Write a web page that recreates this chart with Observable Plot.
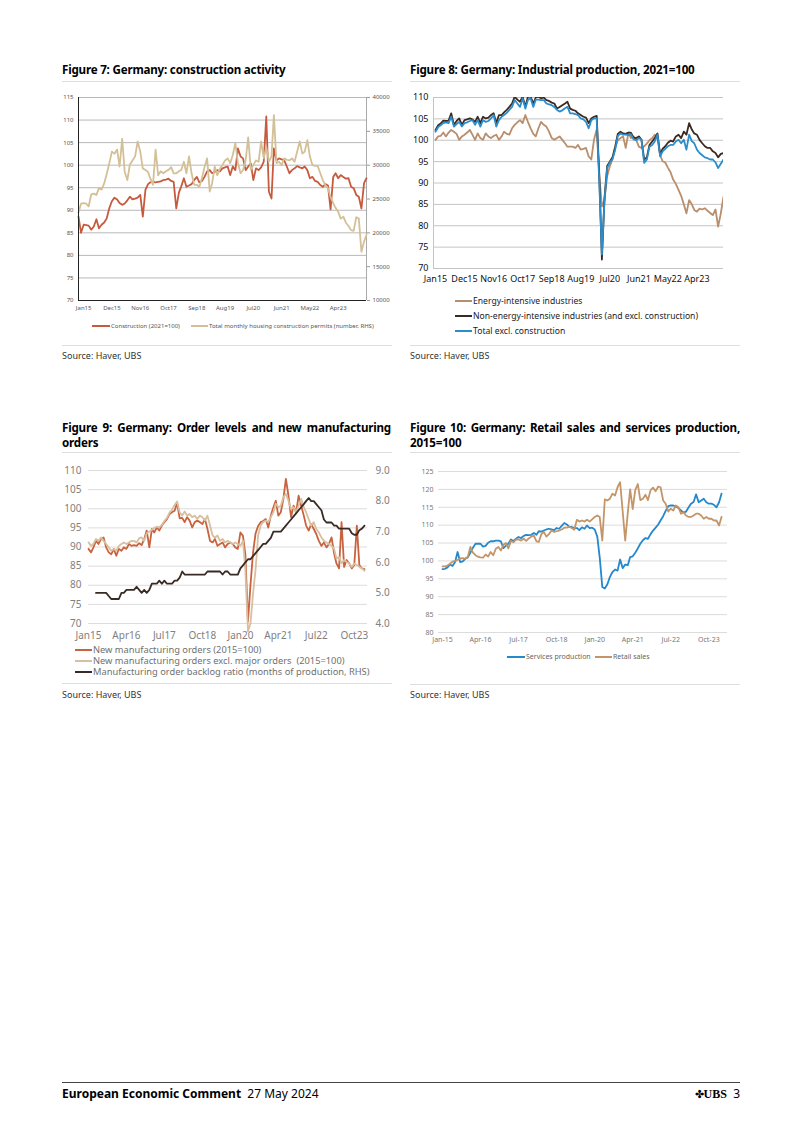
<!DOCTYPE html>
<html><head><meta charset="utf-8">
<script src="https://cdn.jsdelivr.net/npm/d3@7"></script>
<script src="https://cdn.jsdelivr.net/npm/@observablehq/plot@0.6"></script>
<style>
body{margin:0;background:#fff;}
#page{position:relative;width:802px;height:1134px;font-family:"Noto Sans",sans-serif;color:#000;overflow:hidden;}
.title{position:absolute;font-weight:bold;font-size:11.6px;letter-spacing:-0.2px;line-height:15px;width:330px;text-align:justify;}
.hr{position:absolute;height:0;border-top:1px solid #dedede;width:330px;}
.src{position:absolute;font-size:9px;color:#333;line-height:12px;}
.chart{position:absolute;}
.chart svg{overflow:visible;}
.lg{position:absolute;white-space:nowrap;display:flex;align-items:center;}
.lg .sw{display:inline-block;height:0;}
</style></head>
<body><div id="page"></div>
<script>
// ---------- DATA ----------
// Figure 7 (monthly from Nov 2014)
const f7Start = [2014, 10];
const construction = [88.6,85.0,86.8,86.7,86.6,85.7,86.4,88.0,86.0,86.8,
87.3,88.2,90.5,92.0,92.8,92.4,91.6,91.2,91.5,92.2,
93.0,92.4,92.6,92.8,93.4,88.6,94.5,95.8,96.2,96.3,
96.2,96.3,96.4,96.7,96.8,97.0,96.5,96.3,90.4,93.9,
95.3,97.1,95.2,95.5,95.8,96.7,97.4,96.2,96.5,97.4,
98.6,98.9,98.2,98.5,98.9,98.6,99.3,99.5,99.7,97.8,
99.7,98.9,103.7,101.9,101.5,98.9,99.7,100.4,96.7,99.3,
98.9,99.5,100.8,110.8,94.1,92.6,103.7,101.1,101.5,101.3,
101.1,99.7,98.2,98.9,99.3,99.8,99.5,99.3,99.7,98.9,
97.1,97.4,96.5,96.3,95.6,95.2,95.8,95.5,90.2,97.4,
98.2,97.1,97.8,97.4,97.0,97.1,95.2,94.9,93.4,93.0,
90.4,96.0,97.1];
const permits = [23000,24300,24400,24300,23900,25700,25800,25600,26600,26400,
27300,28700,30300,32000,31700,32300,29800,33900,29000,27800,
30100,30700,31300,33500,32000,29500,29300,29000,28000,27100,
32300,28500,29100,28800,29100,29300,29700,28800,28800,29100,
29300,30500,28800,31300,28800,27100,27100,26800,28100,29700,
31000,26100,27300,29800,28500,29500,30000,30700,31000,30300,
31500,33300,30300,28800,29300,30700,34100,29300,30000,30700,
30500,33500,31000,32700,30500,31300,37400,30300,30500,30000,
31000,30800,30700,31000,30500,32000,33500,31700,32000,33700,
31300,30000,29900,29900,28800,27800,27000,26600,25300,24400,
23700,23100,22100,22400,21500,21000,20400,20300,22300,22100,
17200,18700,19700];
const f7Ticks = ["Jan15","Dec15","Nov16","Oct17","Sep18","Aug19","Jul20","Jun21","May22","Apr23"];
const f7Left = [70,75,80,85,90,95,100,105,110,115];
const f7Right = [10000,15000,20000,25000,30000,35000,40000];

// Figure 8 (monthly from Jan 2015)
const f8Start = [2015, 0];
const energyIntensive = [100.1,100.9,101.0,101.8,100.9,101.8,102.4,102.0,101.5,100.1,
100.9,101.3,101.8,102.4,101.3,100.1,101.6,100.5,100.1,101.6,
100.9,100.5,101.0,101.3,100.1,100.9,102.0,101.5,101.3,102.8,
103.6,104.2,104.7,104.0,105.9,104.3,102.8,101.5,100.9,102.8,
104.3,103.6,103.2,102.0,100.5,100.1,100.5,100.9,100.1,99.3,
98.5,98.5,98.5,98.2,98.9,97.8,98.0,98.2,96.2,95.5,
100.1,102.5,92.0,84.5,86.0,91.6,93.9,95.5,98.2,100.0,
100.5,100.9,98.2,101.8,100.5,100.9,100.1,98.5,98.2,98.6,
99.2,100.0,100.5,101.3,100.7,96.6,95.1,94.8,93.6,92.5,
90.8,89.8,88.4,87.0,85.0,82.9,86.0,85.0,83.7,83.3,
84.0,83.8,84.1,83.5,83.0,82.5,83.8,79.8,82.9,86.8];
const nonEnergy = [102.4,103.5,103.9,104.6,104.5,104.6,106.3,103.6,104.5,105.1,
103.6,104.7,104.9,105.1,104.9,104.3,105.5,104.0,105.5,105.1,
105.3,105.9,106.3,104.0,105.9,105.9,106.5,107.1,107.8,108.6,
110.2,109.5,109.0,110.2,107.8,110.2,110.2,108.6,110.0,110.2,
109.8,110.0,109.4,109.2,108.8,108.6,107.4,107.8,108.2,108.6,
109.0,107.4,107.1,106.9,106.3,105.9,105.5,105.3,104.0,105.1,
105.5,105.7,92.4,72.1,86.5,94.0,95.0,96.0,98.5,101.5,
102.0,101.6,101.5,101.8,101.8,100.6,100.5,100.9,100.1,95.5,
96.0,98.9,99.7,100.5,101.6,96.6,98.0,98.6,99.4,99.9,
99.7,100.9,101.3,100.5,102.0,101.3,104.0,102.5,101.6,101.3,
100.1,99.3,98.6,98.2,98.2,97.4,97.0,96.0,96.8,97.0];
const totalExclConstruction = [102.0,103.1,103.5,104.0,104.2,104.0,105.5,103.2,103.8,104.3,
103.2,104.0,104.2,104.5,104.7,103.6,104.7,103.2,104.7,104.3,
104.5,105.1,105.9,103.2,104.7,105.5,105.9,106.4,107.1,107.8,
109.4,108.6,107.8,109.8,107.4,109.4,109.8,107.8,109.5,109.5,
109.4,109.4,108.6,108.4,108.2,107.8,107.1,106.7,107.0,107.5,
107.8,106.3,106.3,106.1,105.9,105.1,104.9,104.3,102.8,104.7,
105.1,105.1,90.8,73.3,86.0,93.5,94.8,95.6,97.8,101.0,
101.6,101.3,101.3,101.2,101.4,100.2,100.0,100.5,100.1,94.7,
95.5,98.5,98.9,99.7,101.3,96.2,97.4,98.0,98.6,98.9,
98.9,99.7,100.1,99.3,100.1,97.8,101.3,99.8,99.3,97.8,
97.0,96.5,96.0,95.8,95.5,95.5,94.8,93.5,94.5,95.5];
const f8Ticks = ["Jan15","Dec15","Nov16","Oct17","Sep18","Aug19","Jul20","Jun21","May22","Apr23"];
const f8Left = [70,75,80,85,90,95,100,105,110];

// Figure 9 (monthly from Jan 2015; backlog from Apr 2015)
const f9Start = [2015, 0];
const newOrders = [89.5,88.6,89.9,91.6,90.8,92.1,92.5,89.9,88.6,88.1,
89.5,87.7,89.5,89.0,89.9,89.5,90.8,90.3,90.5,90.3,
91.0,90.5,92.1,94.3,89.9,94.7,93.8,95.1,94.3,95.6,
96.5,97.3,98.6,99.1,99.5,101.5,97.5,97.6,96.5,97.8,
96.9,95.1,96.5,96.9,96.5,96.0,97.3,94.7,91.6,91.2,
92.1,90.3,90.8,91.2,89.9,90.8,91.2,90.8,89.9,89.5,
93.8,92.9,88.0,70.5,80.0,88.5,93.5,95.5,96.5,96.8,
97.3,95.1,98.2,100.4,102.1,98.2,99.1,102.6,107.8,103.4,
97.8,100.8,99.0,103.4,100.8,98.2,95.6,94.3,96.0,94.7,
93.4,91.6,90.3,91.2,89.9,90.8,92.5,88.3,85.7,84.4,
96.5,84.8,86.6,85.7,84.4,85.3,95.6,85.3,84.4,84.2];
const newOrdersExclMajor = [91.2,90.3,90.8,92.1,91.6,92.5,91.6,90.8,89.9,89.0,
89.5,89.0,90.3,90.8,91.2,90.8,91.2,91.6,91.6,91.2,
92.3,92.5,91.6,93.6,94.0,94.5,95.0,95.3,95.1,95.8,
96.8,97.6,99.0,99.7,101.0,101.9,99.1,98.2,99.3,98.2,
98.6,97.8,98.2,97.3,98.2,97.8,96.9,98.2,95.6,93.0,
92.5,93.0,91.6,92.1,91.2,91.6,91.2,90.8,91.2,90.8,
90.3,91.6,84.0,68.0,70.0,77.8,84.0,93.0,95.6,96.5,
96.9,96.5,97.8,99.1,101.3,100.4,100.8,103.0,103.9,102.1,
99.9,100.4,99.1,100.8,102.6,100.4,99.1,97.3,95.6,96.5,
94.7,93.8,92.5,91.6,91.2,90.8,90.3,89.5,87.0,87.4,
85.7,86.6,86.1,85.7,84.8,85.7,85.3,84.8,84.4,83.8];
const backlogStart = [2015, 3];
const backlogRatio = [5.0,5.0,5.0,5.0,5.0,4.9,4.8,4.8,4.8,4.8,
5.0,5.0,5.1,5.1,5.1,5.1,5.2,5.1,5.0,5.1,
5.0,5.1,5.3,5.3,5.3,5.4,5.3,5.4,5.3,5.3,
5.3,5.4,5.4,5.5,5.7,5.6,5.6,5.6,5.6,5.6,
5.6,5.6,5.6,5.6,5.7,5.7,5.7,5.7,5.7,5.7,
5.6,5.7,5.7,5.6,5.6,5.6,5.6,5.8,5.9,6.0,
6.1,6.1,6.2,6.3,6.4,6.5,6.6,6.6,6.7,6.8,
7.0,7.0,7.0,7.0,7.1,7.2,7.3,7.4,7.5,7.6,
7.7,7.8,7.9,8.0,8.1,8.0,8.0,7.9,7.8,7.7,
7.4,7.3,7.3,7.3,7.2,7.2,7.1,7.1,7.1,7.1,
7.1,6.95,6.9,6.9,7.05,7.1,7.2];
const f9Ticks = ["Jan15","Apr16","Jul17","Oct18","Jan20","Apr21","Jul22","Oct23"];
const f9Left = [70,75,80,85,90,95,100,105,110];
const f9Right = [4,5,6,7,8,9];

// Figure 10 (monthly from Jan 2015)
const f10Start = [2015, 0];
const servicesProduction = [97.7,97.8,98.2,99.0,98.6,99.7,102.5,99.7,99.9,100.6,
101.0,102.3,103.7,104.8,104.8,104.8,104.0,104.2,105.1,105.5,
105.5,105.7,105.7,105.5,103.6,104.3,104.8,106.0,105.6,106.2,
106.7,106.4,107.0,107.3,107.2,107.3,107.8,107.3,108.3,108.2,
108.5,108.8,109.0,108.8,108.6,109.2,109.0,109.8,110.6,110.2,
109.5,109.5,109.2,109.2,108.6,109.4,109.0,109.9,109.2,109.3,
108.8,106.8,101.0,92.7,92.3,93.5,95.5,96.9,97.6,97.3,
100.4,98.0,99.0,98.8,101.1,101.3,102.3,103.5,104.8,105.8,
106.4,106.2,107.5,108.5,109.3,110.2,111.3,112.5,114.0,115.3,
115.5,115.5,115.2,114.8,114.1,113.5,113.8,115.0,116.0,116.5,
118.6,116.4,116.9,117.4,116.4,116.0,116.0,115.7,115.0,116.4,118.8];
const retailSales = [98.5,98.5,98.7,99.2,99.8,100.0,100.3,100.7,100.8,100.6,
101.2,103.9,102.3,101.6,101.2,101.0,100.9,101.8,101.2,102.5,
101.6,103.4,103.9,102.9,104.5,105.0,103.5,105.6,105.2,106.0,
106.0,105.7,106.2,105.6,106.3,106.8,107.1,105.5,105.3,107.5,
108.1,106.8,107.5,108.5,108.1,108.3,108.5,108.8,109.3,109.3,
109.5,109.2,108.7,111.5,111.0,111.3,111.0,111.5,111.0,111.6,
112.3,112.7,112.3,105.7,117.2,116.9,117.4,118.8,118.3,120.6,
122.0,114.0,105.7,113.5,120.0,114.5,119.8,121.5,117.0,117.4,
118.5,117.0,119.8,120.5,119.5,120.8,120.6,116.9,116.0,113.8,
114.6,114.1,115.5,115.0,113.2,113.6,112.7,112.3,112.3,112.7,
113.2,113.2,112.7,111.8,112.3,111.8,111.8,111.3,111.3,109.9,112.3];
const f10Ticks = ["Jan-15","Apr-16","Jul-17","Oct-18","Jan-20","Apr-21","Jul-22","Oct-23"];
const f10Left = [80,85,90,95,100,105,110,115,120,125];

// ---------- HELPERS ----------
const mdate = (start, i) => new Date(Date.UTC(start[0], start[1] + i, 1));
const toRows = (start, vals) => vals.map((v, i) => ({date: mdate(start, i), value: v}));
const parseTick = (s) => d3.utcParse(s.includes("-") ? "%b-%y" : "%b%y")(s);
const page = document.getElementById("page");
function add(html, cls, style) {
  const el = document.createElement("div");
  el.className = cls; el.innerHTML = html;
  Object.assign(el.style, style); page.appendChild(el); return el;
}
function placeChart(svg, left, top) {
  const w = document.createElement("div"); w.className = "chart";
  w.style.left = left + "px"; w.style.top = top + "px";
  w.appendChild(svg); page.appendChild(w);
}
function legendItem(x, yc, color, label, sw, font, txtColor, lw) {
  const h = Math.round(font * 1.1);
  return add(`<span class="sw" style="width:${sw}px;border-top:${lw}px solid ${color}"></span><span style="padding-left:1px;line-height:${h}px">${label}</span>`, "lg",
    {left: x + "px", top: (yc - h / 2) + "px", height: h + "px", fontSize: font + "px", color: txtColor, lineHeight: h + "px"});
}

// ---------- TEXT ----------
add("Figure 7: Germany: construction activity", "title", {left: "62px", top: "62px"});
add("Figure 8: Germany: Industrial production, 2021=100", "title", {left: "410px", top: "62px"});
add("Figure 9: Germany: Order levels and new manufacturing orders", "title", {left: "62px", top: "420px", width: "329px"});
add("Figure 10: Germany: Retail sales and services production, 2015=100", "title", {left: "410px", top: "420px", width: "330px"});
add("", "hr", {left: "62px", top: "81px"});
add("", "hr", {left: "410px", top: "81px"});
add("", "hr", {left: "62px", top: "452px"});
add("", "hr", {left: "410px", top: "452px"});
add("", "hr", {left: "62px", top: "345px"});
add("", "hr", {left: "410px", top: "345px"});
add("", "hr", {left: "62px", top: "683px"});
add("", "hr", {left: "410px", top: "684px"});
add("Source: Haver, UBS", "src", {left: "62px", top: "350px"});
add("Source: Haver, UBS", "src", {left: "410px", top: "350px"});
add("Source: Haver, UBS", "src", {left: "62px", top: "689px"});
add("Source: Haver, UBS", "src", {left: "410px", top: "689px"});

// ---------- FIGURE 7 ----------
{
  const toL = v => 70 + (v - 10000) / 30000 * 45;
  const fromL = y => String(Math.round(10000 + (y - 70) / 45 * 30000));
  const cRows = toRows(f7Start, construction);
  const pRows = toRows(f7Start, permits);
  const x0 = mdate(f7Start, 0), x1 = mdate(f7Start, 112);
  const svg = Plot.plot({
    width: 330, height: 228, marginLeft: 16, marginRight: 26, marginTop: 9, marginBottom: 16,
    style: {fontFamily: "Noto Sans", fontSize: "6px", color: "#555", background: "none"},
    x: {type: "utc", domain: [x0, x1]},
    y: {domain: [70, 115]},
    marks: [
      Plot.gridY(f7Left, {stroke: "#b8b8b8", strokeOpacity: 1}),
      Plot.axisY(f7Left, {anchor: "left", tickSize: 0, tickPadding: 5, label: null}),
      Plot.axisY(f7Right.map(toL), {anchor: "right", tickSize: 3, tickPadding: 3, stroke: "#999", tickFormat: fromL, label: null}),
      Plot.ruleX([x1], {stroke: "#aaa"}),
      Plot.axisX(f7Ticks.map(parseTick), {tickSize: 0, tickPadding: 5, tickFormat: "%b%y", label: null}),
      Plot.lineY(cRows, {x: "date", y: "value", stroke: "#c65a3e", strokeWidth: 1.8}),
      Plot.lineY(pRows, {x: "date", y: d => toL(d.value), stroke: "#d3c096", strokeWidth: 1.8}),
      Plot.ruleX([x0], {stroke: "#222", strokeWidth: 1}),
      Plot.ruleY([70], {stroke: "#222", strokeWidth: 1})
    ]
  });
  placeChart(svg, 62, 88);
  legendItem(92, 326, "#c65a3e", "Construction (2021=100)", 18, 6, "#555", 2);
  legendItem(191, 326, "#d3c096", "Total monthly housing construction permits (number, RHS)", 17, 6, "#555", 2);
}

// ---------- FIGURE 8 ----------
{
  const e = toRows(f8Start, energyIntensive), n = toRows(f8Start, nonEnergy), t = toRows(f8Start, totalExclConstruction);
  const svg = Plot.plot({
    width: 330, height: 200, marginLeft: 23, marginRight: 17, marginTop: 9, marginBottom: 20,
    style: {fontFamily: "Noto Sans", fontSize: "9px", color: "#111", background: "none"},
    x: {type: "utc", domain: [mdate(f8Start, 0), mdate(f8Start, 109)], insetLeft: 2},
    y: {domain: [70, 110]},
    marks: [
      Plot.gridY(f8Left, {stroke: "#c4c4c4", strokeOpacity: 1}),
      Plot.frame({anchor: "left", stroke: "#c4c4c4"}),
      Plot.axisY(f8Left, {anchor: "left", tickSize: 0, tickPadding: 5, label: null}),
      Plot.axisX(f8Ticks.map(parseTick), {tickSize: 0, tickPadding: 7, tickFormat: "%b%y", label: null}),
      Plot.lineY(e, {x: "date", y: "value", stroke: "#b98e6c", strokeWidth: 1.8, clip: true}),
      Plot.lineY(n, {x: "date", y: "value", stroke: "#3b2a22", strokeWidth: 1.8, clip: true}),
      Plot.lineY(t, {x: "date", y: "value", stroke: "#2b8dcb", strokeWidth: 1.8, clip: true})
    ]
  });
  placeChart(svg, 410, 88);
  legendItem(455, 301, "#b98e6c", "Energy-intensive industries", 17, 8.6, "#222", 2);
  legendItem(455, 316, "#3b2a22", "Non-energy-intensive industries (and excl. construction)", 17, 8.6, "#222", 2);
  legendItem(455, 331, "#2b8dcb", "Total excl. construction", 17, 8.6, "#222", 2);
}

// ---------- FIGURE 9 ----------
{
  const toL = v => 70 + (v - 4) * 8;
  const fromL = y => ((y - 70) / 8 + 4).toFixed(1);
  const a = toRows(f9Start, newOrders), b = toRows(f9Start, newOrdersExclMajor), c = toRows(backlogStart, backlogRatio);
  const svg = Plot.plot({
    width: 330, height: 187, marginLeft: 26, marginRight: 25, marginTop: 12, marginBottom: 22,
    style: {fontFamily: "Noto Sans", fontSize: "10px", color: "#808080", background: "none"},
    x: {type: "utc", domain: [mdate(f9Start, 0), mdate(f9Start, 109)], insetRight: 3},
    y: {domain: [70, 110]},
    marks: [
      Plot.gridY(f9Left, {stroke: "#dcdcdc", strokeOpacity: 1}),
      Plot.axisY(f9Left, {anchor: "left", tickSize: 0, tickPadding: 7, label: null}),
      Plot.axisY(f9Right.map(toL), {anchor: "right", tickSize: 0, tickPadding: 8, tickFormat: fromL, label: null}),
      Plot.axisX(f9Ticks.map(parseTick), {tickSize: 0, tickPadding: 8, tickFormat: "%b%y", label: null}),
      Plot.lineY(a, {x: "date", y: "value", stroke: "#c9623f", strokeWidth: 1.8}),
      Plot.lineY(b, {x: "date", y: "value", stroke: "#d8bf9f", strokeWidth: 1.8}),
      Plot.lineY(c, {x: "date", y: d => toL(d.value), stroke: "#3a2a24", strokeWidth: 1.8})
    ]
  });
  placeChart(svg, 62, 458);
  legendItem(75, 650, "#c9623f", "New manufacturing orders (2015=100)", 17, 9.3, "#707070", 2);
  legendItem(75, 661, "#d8bf9f", "New manufacturing orders excl. major orders&nbsp; (2015=100)", 17, 9.3, "#707070", 2);
  legendItem(75, 672, "#3a2a24", "Manufacturing order backlog ratio (months of production, RHS)", 17, 9.3, "#707070", 2);
}

// ---------- FIGURE 10 ----------
{
  const s = toRows(f10Start, servicesProduction), r = toRows(f10Start, retailSales);
  const svg = Plot.plot({
    width: 330, height: 188, marginLeft: 28, marginRight: 13, marginTop: 9, marginBottom: 18,
    style: {fontFamily: "Noto Sans", fontSize: "7px", color: "#777", background: "none"},
    x: {type: "utc", domain: [mdate(f10Start, 0), mdate(f10Start, 110)], insetLeft: 4, insetRight: 6},
    y: {domain: [80, 125]},
    marks: [
      Plot.gridY(f10Left, {stroke: "#dcdcdc", strokeOpacity: 1}),
      Plot.axisY(f10Left, {anchor: "left", tickSize: 0, tickPadding: 5, label: null}),
      Plot.axisX(f10Ticks.map(parseTick), {tickSize: 0, tickPadding: 5, tickFormat: "%b-%y", label: null}),
      Plot.lineY(s, {x: "date", y: "value", stroke: "#2488cc", strokeWidth: 1.8}),
      Plot.lineY(r, {x: "date", y: "value", stroke: "#c39569", strokeWidth: 1.8})
    ]
  });
  placeChart(svg, 410, 462);
  legendItem(507, 657, "#2488cc", "Services production", 18, 7, "#666", 2);
  legendItem(595, 657, "#c39569", "Retail sales", 17, 7, "#666", 2);
}

// ---------- FOOTER ----------
add("", "hr", {left: "62px", top: "1082px", width: "678px", borderTop: "1px solid #444"});
add('<b>European Economic Comment</b>&nbsp; 27 May 2024', "src", {left: "62px", top: "1086px", fontSize: "12px", color: "#000", lineHeight: "15px"});
add('<span style="font-size:11px">✤</span><span style="font-family:\'Liberation Serif\',serif;font-weight:bold">UBS</span>&nbsp; 3', "src", {left: "690px", top: "1086px", fontSize: "12px", color: "#000", lineHeight: "15px", width: "50px", textAlign: "right"});
</script>
</body></html>
